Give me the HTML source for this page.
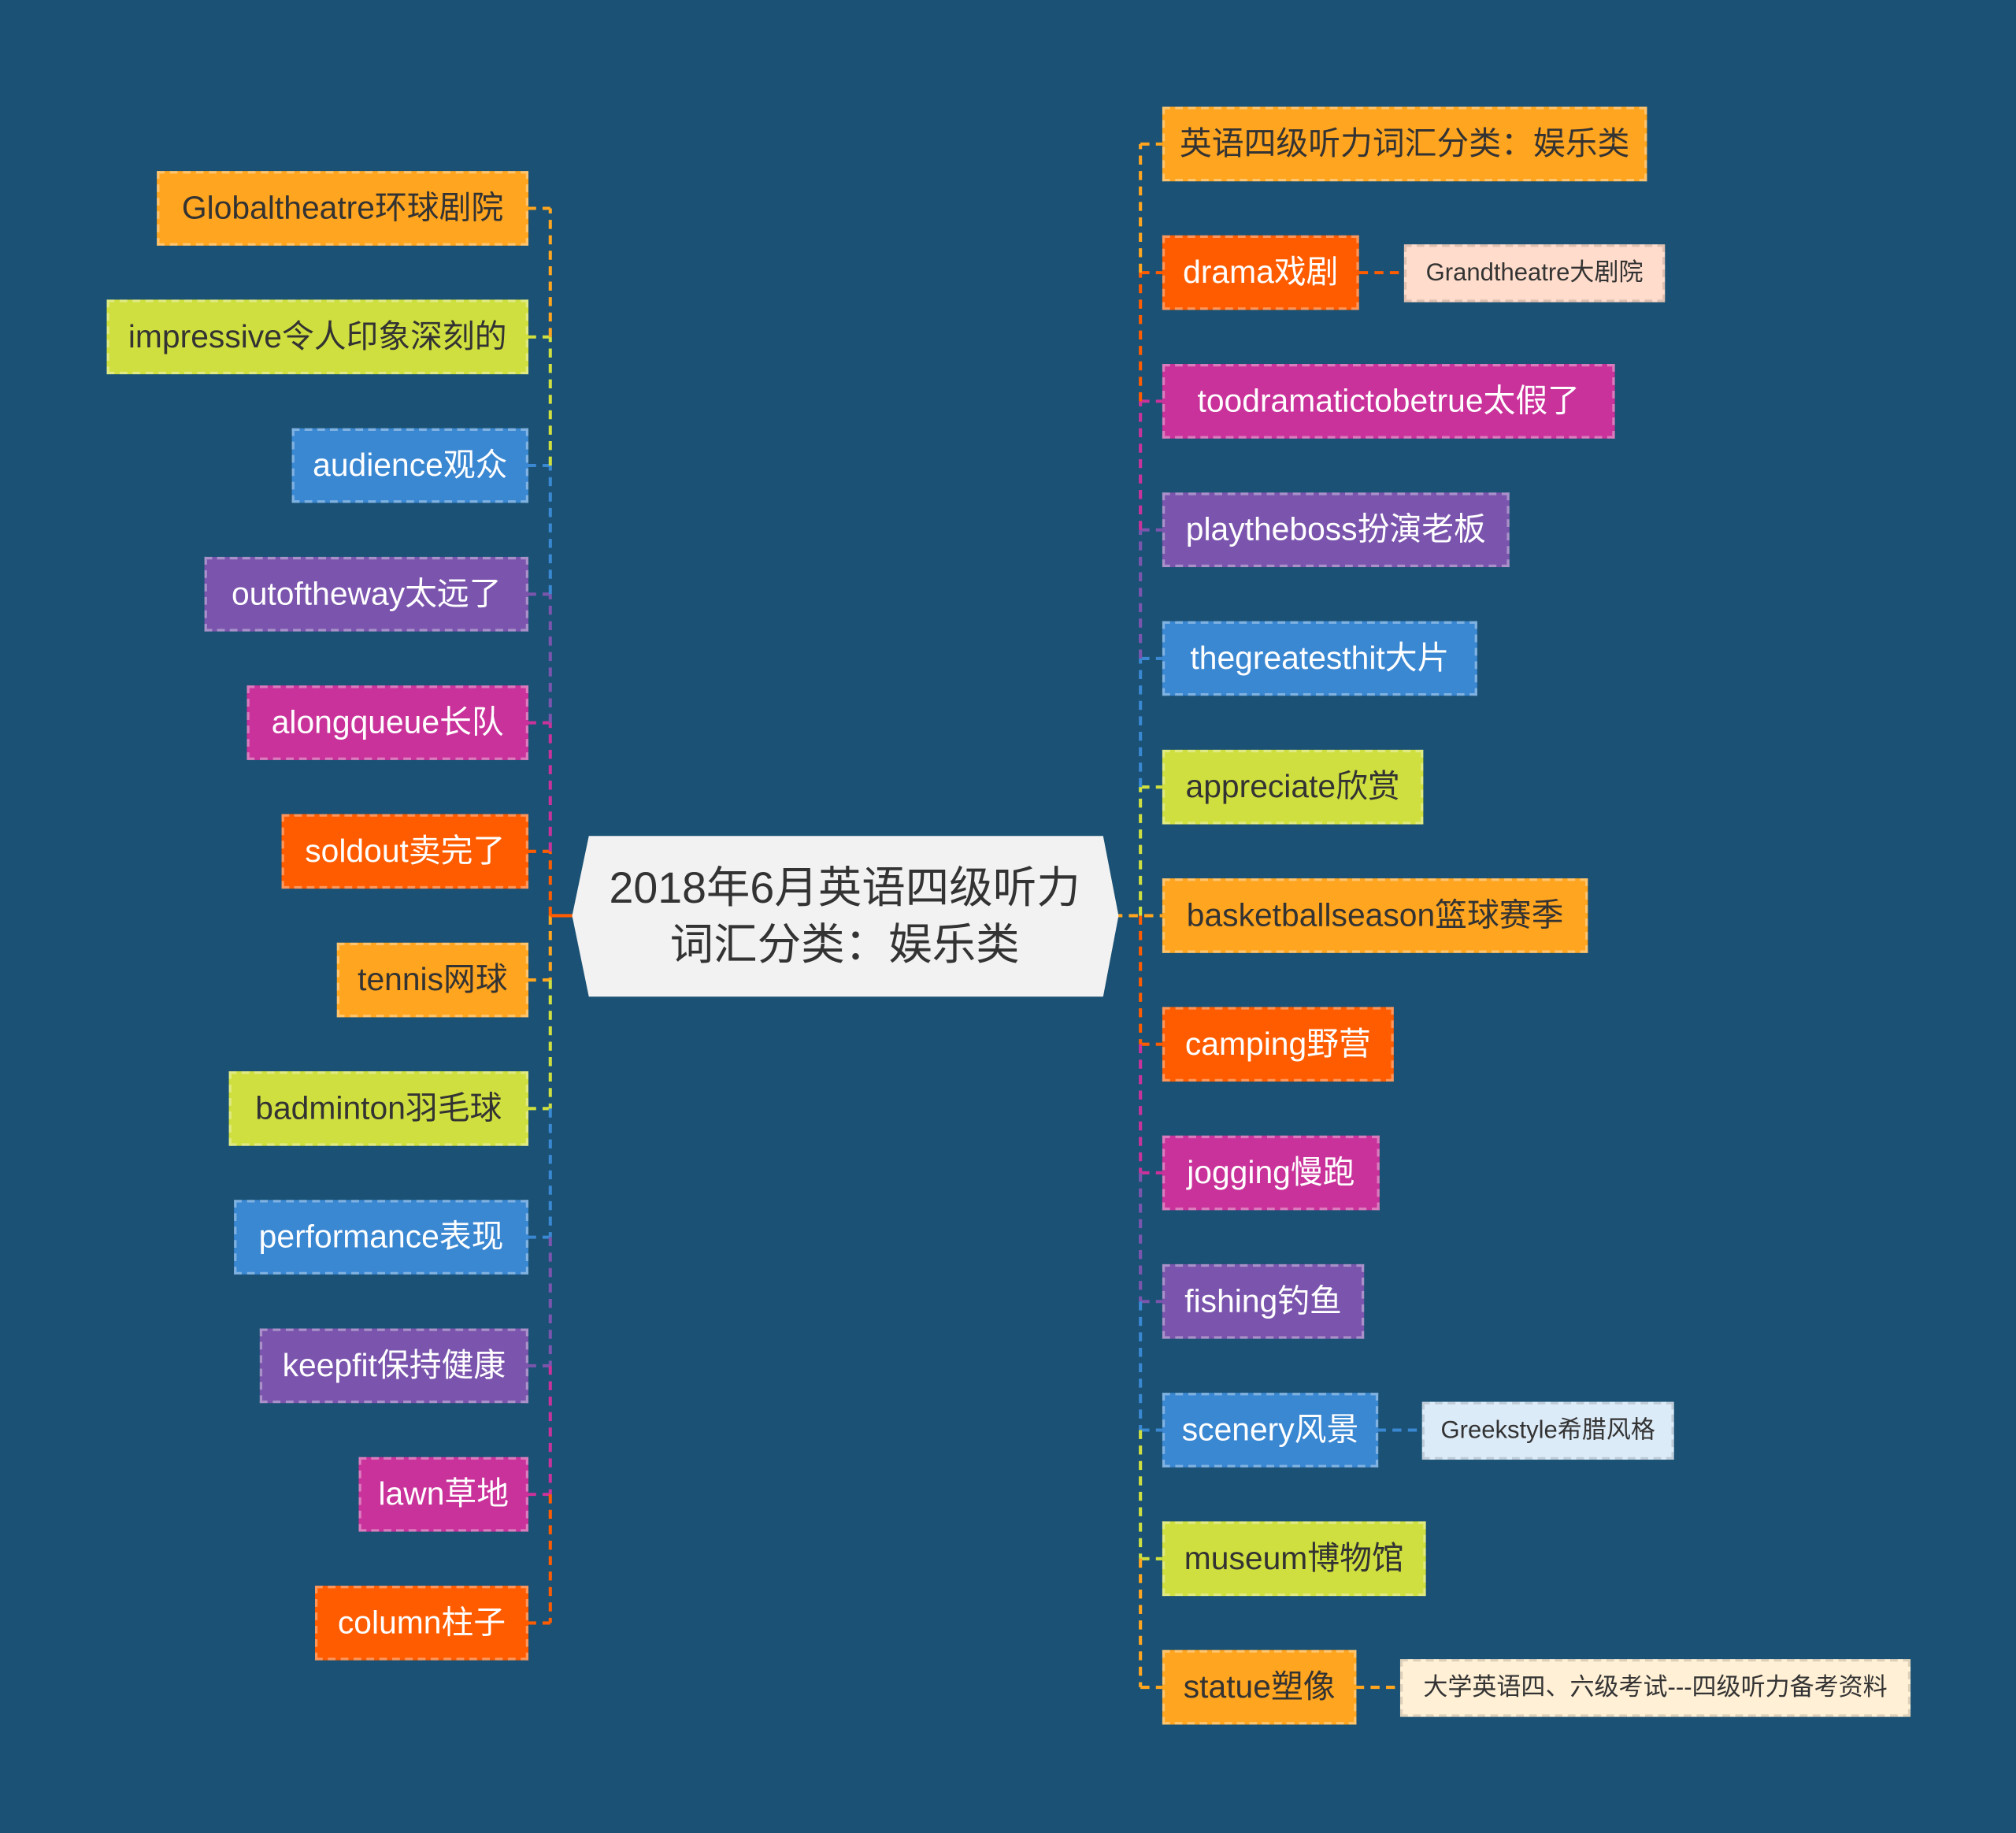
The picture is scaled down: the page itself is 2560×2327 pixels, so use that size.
<!DOCTYPE html>
<html><head><meta charset="utf-8"><style>
html,body{margin:0;padding:0;background:#1a5174;}
#wrap{position:absolute;left:0;top:0;width:1568px;height:1425px;transform:scale(1.63265);transform-origin:0 0;background:#1a5174;overflow:hidden;}
.n{position:absolute;box-sizing:border-box;height:58px;line-height:54px;font-family:"Liberation Sans","Noto Sans CJK SC",sans-serif;font-size:25px;white-space:nowrap;text-align:center;border:2px dashed rgba(255,255,255,0.35);}
.o{background:#ffa51f;color:#333;}
.r{background:#ff5c00;color:#fff;}
.m{background:#c9329a;color:#fff;}
.p{background:#7b55ad;color:#fff;}
.b{background:#3a87d2;color:#fff;}
.l{background:#cfdf3f;color:#333;}
.s{position:absolute;box-sizing:border-box;height:45px;line-height:41px;font-family:"Liberation Sans","Noto Sans CJK SC",sans-serif;font-size:19px;white-space:nowrap;text-align:center;color:#333;border:2px dashed rgba(0,0,0,0.12);}
svg{position:absolute;left:0;top:0;}
</style></head><body><div id="wrap">
<svg width="1568" height="1425" viewBox="0 0 1568 1425" fill="none" stroke-width="2.5" stroke-dasharray="7,5">
<!-- left -->
<path d="M428 712 V662 M410 662 H428" stroke="#ff5c00"/>
<path d="M428 662 V562 M410 562 H428" stroke="#c9329a"/>
<path d="M428 562 V462 M410 462 H428" stroke="#7b55ad"/>
<path d="M428 462 V362 M410 362 H428" stroke="#3a87d2"/>
<path d="M428 362 V262 M410 262 H428" stroke="#cfdf3f"/>
<path d="M428 262 V162 M410 162 H428" stroke="#ffa51f"/>
<path d="M428 712 V762 M410 762 H428" stroke="#ffa51f"/>
<path d="M428 762 V862 M410 862 H428" stroke="#cfdf3f"/>
<path d="M428 862 V962 M410 962 H428" stroke="#3a87d2"/>
<path d="M428 962 V1062 M410 1062 H428" stroke="#7b55ad"/>
<path d="M428 1062 V1162 M410 1162 H428" stroke="#c9329a"/>
<path d="M428 1162 V1262 M410 1262 H428" stroke="#ff5c00"/>
<path d="M428 712 H448" stroke="#ff5c00" stroke-dasharray="none"/>
<!-- right -->
<path d="M866 712 H904" stroke="#ffa51f"/>
<path d="M887 712 V612 M887 612 H904" stroke="#cfdf3f"/>
<path d="M887 612 V512 M887 512 H904" stroke="#3a87d2"/>
<path d="M887 512 V412 M887 412 H904" stroke="#7b55ad"/>
<path d="M887 412 V312 M887 312 H904" stroke="#c9329a"/>
<path d="M887 312 V212 M887 212 H904" stroke="#ff5c00"/>
<path d="M887 212 V112 M887 112 H904" stroke="#ffa51f"/>
<path d="M887 712 V812 M887 812 H904" stroke="#ff5c00"/>
<path d="M887 812 V912 M887 912 H904" stroke="#c9329a"/>
<path d="M887 912 V1012 M887 1012 H904" stroke="#7b55ad"/>
<path d="M887 1012 V1112 M887 1112 H904" stroke="#3a87d2"/>
<path d="M887 1112 V1212 M887 1212 H904" stroke="#cfdf3f"/>
<path d="M887 1212 V1312 M887 1312 H904" stroke="#ffa51f"/>
<path d="M1057 212 H1092" stroke="#ff5c00"/>
<path d="M1071 1112 H1106" stroke="#3a87d2"/>
<path d="M1054 1312 H1089" stroke="#ffa51f"/>
<polygon points="445,712 458,650 858,650 870,712 858,775 458,775" fill="#f2f2f2" stroke="none"/>
<text x="657" y="702" text-anchor="middle" font-family="Liberation Sans, Noto Sans CJK SC, sans-serif" font-size="34" fill="#333" stroke="none">2018年6月英语四级听力</text>
<text x="657" y="746" text-anchor="middle" font-family="Liberation Sans, Noto Sans CJK SC, sans-serif" font-size="34" fill="#333" stroke="none">词汇分类：娱乐类</text>
</svg>
<div class="n o" style="left:122px;top:133px;width:289px">Globaltheatre环球剧院</div>
<div class="n l" style="left:83px;top:233px;width:328px">impressive令人印象深刻的</div>
<div class="n b" style="left:227px;top:333px;width:184px">audience观众</div>
<div class="n p" style="left:159px;top:433px;width:252px">outoftheway太远了</div>
<div class="n m" style="left:192px;top:533px;width:219px">alongqueue长队</div>
<div class="n r" style="left:219px;top:633px;width:192px">soldout卖完了</div>
<div class="n o" style="left:262px;top:733px;width:149px">tennis网球</div>
<div class="n l" style="left:178px;top:833px;width:233px">badminton羽毛球</div>
<div class="n b" style="left:182px;top:933px;width:229px">performance表现</div>
<div class="n p" style="left:202px;top:1033px;width:209px">keepfit保持健康</div>
<div class="n m" style="left:279px;top:1133px;width:132px">lawn草地</div>
<div class="n r" style="left:245px;top:1233px;width:166px">column柱子</div>

<div class="n o" style="left:904px;top:83px;width:377px">英语四级听力词汇分类：娱乐类</div>
<div class="n r" style="left:904px;top:183px;width:153px">drama戏剧</div>
<div class="n m" style="left:904px;top:283px;width:352px">toodramatictobetrue太假了</div>
<div class="n p" style="left:904px;top:383px;width:270px">playtheboss扮演老板</div>
<div class="n b" style="left:904px;top:483px;width:245px">thegreatesthit大片</div>
<div class="n l" style="left:904px;top:583px;width:203px">appreciate欣赏</div>
<div class="n o" style="left:904px;top:683px;width:331px">basketballseason篮球赛季</div>
<div class="n r" style="left:904px;top:783px;width:180px">camping野营</div>
<div class="n m" style="left:904px;top:883px;width:169px">jogging慢跑</div>
<div class="n p" style="left:904px;top:983px;width:157px">fishing钓鱼</div>
<div class="n b" style="left:904px;top:1083px;width:168px">scenery风景</div>
<div class="n l" style="left:904px;top:1183px;width:205px">museum博物馆</div>
<div class="n o" style="left:904px;top:1283px;width:151px">statue塑像</div>

<div class="s" style="left:1092px;top:190px;width:203px;background:#ffdccb">Grandtheatre大剧院</div>
<div class="s" style="left:1106px;top:1090px;width:196px;background:#dcebf8">Greekstyle希腊风格</div>
<div class="s" style="left:1089px;top:1290px;width:397px;background:#fff0d6">大学英语四、六级考试---四级听力备考资料</div>
</div></body></html>
